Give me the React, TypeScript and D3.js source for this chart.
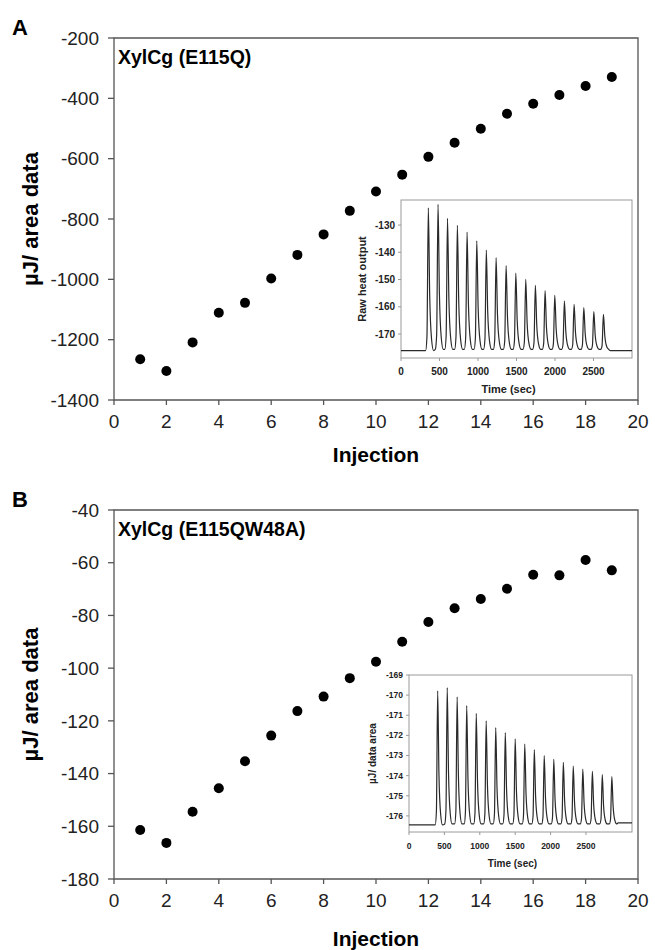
import * as d3 from 'd3';
import React from 'react';

const width = 655;
const height = 950;
const font = '"Liberation Sans", Arial, Helvetica, sans-serif';
const axisGrey = '#555';
const insetGrey = '#9a9a9a';

// main panels: heat per injection
const injections = [1, 2, 3, 4, 5, 6, 7, 8, 9, 10, 11, 12, 13, 14, 15, 16, 17, 18, 19];
const heatA = [-1265, -1304, -1209, -1111, -1078, -997, -919, -851, -773, -709, -653, -594, -547, -501, -451, -418, -389, -359, -329];
const heatB = [-161.4, -166.3, -154.5, -145.6, -135.3, -125.6, -116.3, -110.8, -103.8, -97.6, -90.0, -82.5, -77.3, -73.8, -69.9, -64.6, -64.8, -59.0, -62.9];
const xTicks = [0, 2, 4, 6, 8, 10, 12, 14, 16, 18, 20];
const yTicksA = [-200, -400, -600, -800, -1000, -1200, -1400];
const yTicksB = [-40, -60, -80, -100, -120, -140, -160, -180];

// insets: raw thermogram peaks (time in s, peak value)
const peakTimesA = [355, 481, 604, 732, 858, 984, 1108, 1235, 1365, 1491, 1620, 1745, 1871, 1997, 2122, 2248, 2374, 2504, 2629];
const peakTopsA = [-123.7, -122.4, -127.5, -130.1, -132.6, -135.8, -139.2, -141.9, -144.9, -147.6, -149.9, -152.1, -154.1, -155.8, -157.9, -159.1, -160.3, -161.8, -162.8];
const baselineA = [-176.1, -175.6, -176.1]; // before, between, after peaks
const peakTimesB = [405, 540, 680, 815, 950, 1090, 1225, 1360, 1500, 1635, 1770, 1910, 2045, 2180, 2320, 2455, 2590, 2730, 2865];
const peakTopsB = [-169.79, -169.63, -170.09, -170.52, -170.9, -171.28, -171.61, -171.86, -172.17, -172.43, -172.71, -173.0, -173.19, -173.34, -173.52, -173.67, -173.79, -173.95, -174.05];
const baselineB = [-176.45, -176.4, -176.35];
const timeTicks = [0, 500, 1000, 1500, 2000, 2500];
const insetYTicksA = [-130, -140, -150, -160, -170];
const insetYTicksB = [-169, -170, -171, -172, -173, -174, -175, -176];

// one spike per injection: steep rise, slightly slower decay back to the trough
function tracePoints(times, tops, base, tMax) {
  const pts = [[0, base[0]]];
  times.forEach((t, i) => {
    const lo = i === 0 ? base[0] : base[1];
    const d = tops[i] - lo;
    pts.push([t - 35, lo], [t - 18, lo + 0.1 * d], [t, tops[i]], [t + 18, lo + 0.38 * d], [t + 42, lo + 0.08 * d], [t + 68, lo]);
  });
  const last = times[times.length - 1];
  pts.push([last + 90, base[2]], [tMax, base[2]]);
  return pts;
}

function Inset({ box, xMax, yDomain, yTicks, times, tops, base, yLabel, fs, labelFs }) {
  const x = d3.scaleLinear().domain([0, xMax]).range([box.left, box.right]);
  const y = d3.scaleLinear().domain(yDomain).range([box.bottom, box.top]);
  const line = d3.line().x(d => x(d[0])).y(d => y(d[1])).curve(d3.curveMonotoneX);
  const pts = tracePoints(times, tops, base, xMax);
  return (
    <g fontFamily={font} fontWeight="bold" fill="#222">
      <rect x={box.left} y={box.top} width={box.right - box.left} height={box.bottom - box.top} fill="#fff" stroke={insetGrey} strokeWidth={1} />
      <path d={line(pts)} fill="none" stroke="#2a2a2a" strokeWidth={1.2} />
      {yTicks.map(t => (
        <g key={t}>
          <line x1={box.left - 3} x2={box.left} y1={y(t)} y2={y(t)} stroke={insetGrey} />
          <text x={box.left - 6} y={y(t)} dy="0.35em" textAnchor="end" fontSize={fs}>{t}</text>
        </g>
      ))}
      {timeTicks.map(t => (
        <g key={t}>
          <line x1={x(t)} x2={x(t)} y1={box.bottom} y2={box.bottom + 3} stroke={insetGrey} />
          <text x={x(t)} y={box.bottom + 17} textAnchor="middle" fontSize={fs}>{t}</text>
        </g>
      ))}
      <text x={(box.left + box.right) / 2 - 8} y={box.bottom + 35} textAnchor="middle" fontSize={labelFs}>Time (sec)</text>
      <text transform={`translate(${box.labelX},${(box.top + box.bottom) / 2}) rotate(-90)`} textAnchor="middle" fontSize={labelFs}>{yLabel}</text>
    </g>
  );
}

function Panel({ letter, title, top, bottom, yDomain, yTicks, values, xTitleGap, children }) {
  const left = 114;
  const right = 638;
  const x = d3.scaleLinear().domain([0, 20]).range([left, right]);
  const y = d3.scaleLinear().domain(yDomain).range([bottom, top]);
  return (
    <g fontFamily={font}>
      <text x={12} y={top - 3} fontSize={22} fontWeight="bold">{letter}</text>
      <path d={`M${left},${bottom}V${top}H${right}V${bottom}Z`} fill="none" stroke={axisGrey} strokeWidth={1.3} />
      {yTicks.map(t => (
        <g key={t}>
          <line x1={left - 6} x2={left} y1={y(t)} y2={y(t)} stroke={axisGrey} strokeWidth={1.3} />
          <text x={99} y={y(t)} dy="0.35em" textAnchor="end" fontSize={19} fill="#222">{t}</text>
        </g>
      ))}
      {xTicks.map(t => (
        <g key={t}>
          <line x1={x(t)} x2={x(t)} y1={bottom} y2={bottom + 5} stroke={axisGrey} strokeWidth={1.3} />
          <text x={x(t)} y={bottom + 28} textAnchor="middle" fontSize={19} fill="#222">{t}</text>
        </g>
      ))}
      <text x={(left + right) / 2} y={bottom + xTitleGap} textAnchor="middle" fontSize={21} fontWeight="bold">Injection</text>
      <text transform={`translate(38,${(top + bottom) / 2}) rotate(-90)`} textAnchor="middle" fontSize={22} fontWeight="bold">µJ/ area data</text>
      <text x={118} y={top + 26} fontSize={19.5} fontWeight="bold">{title}</text>
      {children}
      {values.map((v, i) => (
        <circle key={i} cx={x(injections[i])} cy={y(v)} r={5} fill="#000" />
      ))}
    </g>
  );
}

export default function App() {
  return (
    <svg width={width} height={height} style={{ position: 'absolute', left: 0, top: 0, background: '#fff' }}>
      <Panel letter="A" title="XylCg (E115Q)" top={38} bottom={400} yDomain={[-1400, -200]} yTicks={yTicksA} values={heatA} xTitleGap={62}>
        <Inset
          box={{ left: 401, right: 632, top: 200, bottom: 358, labelX: 366 }}
          xMax={3000}
          yDomain={[-178.8, -120.8]}
          yTicks={insetYTicksA}
          times={peakTimesA}
          tops={peakTopsA}
          base={baselineA}
          yLabel="Raw heat output"
          fs={10}
          labelFs={11}
        />
      </Panel>
      <Panel letter="B" title="XylCg (E115QW48A)" top={510} bottom={879} yDomain={[-180, -40]} yTicks={yTicksB} values={heatB} xTitleGap={67}>
        <Inset
          box={{ left: 409, right: 632, top: 675, bottom: 832, labelX: 376 }}
          xMax={3150}
          yDomain={[-176.8, -169]}
          yTicks={insetYTicksB}
          times={peakTimesB}
          tops={peakTopsB}
          base={baselineB}
          yLabel="µJ/ data area"
          fs={8.5}
          labelFs={10}
        />
      </Panel>
    </svg>
  );
}
